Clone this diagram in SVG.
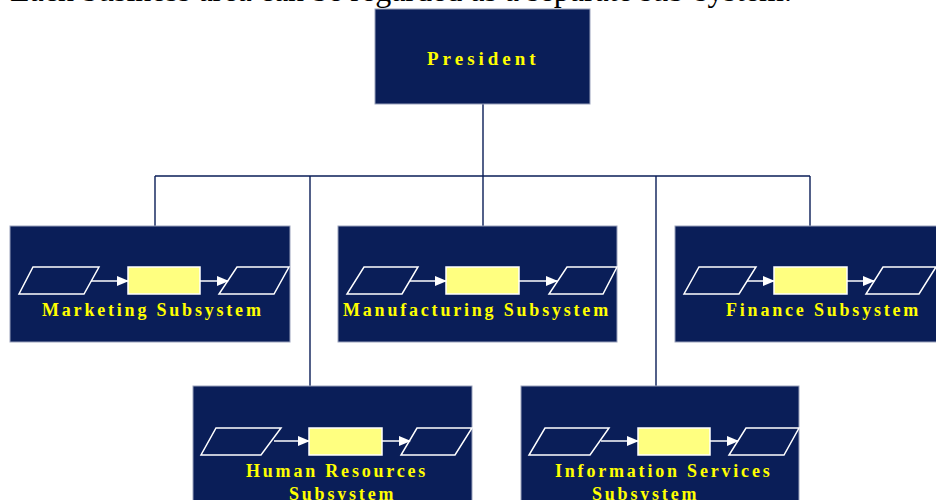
<svg xmlns="http://www.w3.org/2000/svg" width="936" height="500" viewBox="0 0 936 500">
<defs>
<style>
.box{fill:#0a1e58;stroke:#9aa2bc;stroke-width:1}
.conn{stroke:#0a1e58;stroke-width:1.4;fill:none}
.para{fill:none;stroke:#ffffff;stroke-width:1.5}
.proc{fill:#ffff80;stroke:#ffffff;stroke-width:1.5}
.arr{stroke:#ffffff;stroke-width:1.5;fill:none;marker-end:url(#ah)}
.lbl{font-family:"Liberation Serif","Times New Roman",serif;font-weight:bold;font-size:18px;fill:#ffff00;letter-spacing:2.8px}
.title{font-family:"Liberation Serif","Times New Roman",serif;font-size:32px;fill:#000}
</style>
<marker id="ah" viewBox="0 0 12 10" refX="11" refY="5" markerWidth="12" markerHeight="10" markerUnits="userSpaceOnUse" orient="auto">
<path d="M0,0 L12,5 L0,10 z" fill="#ffffff"/>
</marker>
</defs>
<rect width="936" height="500" fill="#ffffff"/>
<text class="title" x="10" y="1">Each business area can be regarded as a separate sub-system.</text>

<g id="connectors">
<path class="conn" d="M483,104 V176 M155,176 H810 M155,176 V226 M483,176 V226 M810,176 V226 M310,176 V386 M656,176 V386"/>
</g>

<g id="president">
<rect class="box" x="375" y="9" width="215" height="95"/>
<text class="lbl" x="427" y="65" style="font-size:19px;letter-spacing:4px">President</text>
</g>

<g id="marketing">
<rect class="box" x="10" y="226" width="280" height="116"/>
<polygon class="para" points="33,267 99,267 84,294 19,294"/>
<line class="arr" x1="91" y1="281" x2="128" y2="281"/>
<rect class="proc" x="128" y="267" width="72" height="27"/>
<line class="arr" x1="200" y1="281" x2="228" y2="281"/>
<polygon class="para" points="237,267 289,267 274,294 219,294"/>
<text class="lbl" x="42" y="316">Marketing Subsystem</text>
</g>

<g id="manufacturing">
<rect class="box" x="338" y="226" width="279" height="116"/>
<polygon class="para" points="364,267 418,267 402,294 347,294"/>
<line class="arr" x1="410" y1="281" x2="446" y2="281"/>
<rect class="proc" x="446" y="267" width="73" height="27"/>
<line class="arr" x1="519" y1="281" x2="557" y2="281"/>
<polygon class="para" points="567,267 617,267 603,294 549,294"/>
<text class="lbl" x="343" y="316">Manufacturing Subsystem</text>
</g>

<g id="finance">
<rect class="box" x="675" y="226" width="280" height="116"/>
<polygon class="para" points="699,267 756,267 739,294 684,294"/>
<line class="arr" x1="747" y1="281" x2="774" y2="281"/>
<rect class="proc" x="774" y="267" width="73" height="27"/>
<line class="arr" x1="847" y1="281" x2="874" y2="281"/>
<polygon class="para" points="883,267 936,267 919,294 866,294"/>
<text class="lbl" x="726" y="316">Finance Subsystem</text>
</g>

<g id="human-resources">
<rect class="box" x="193" y="386" width="279" height="130"/>
<polygon class="para" points="216,428 281,428 261,455 201,455"/>
<line class="arr" x1="274" y1="441" x2="309" y2="441"/>
<rect class="proc" x="309" y="428" width="73" height="27"/>
<line class="arr" x1="382" y1="441" x2="410" y2="441"/>
<polygon class="para" points="417,428 472,428 455,455 401,455"/>
<text class="lbl" x="246" y="477">Human Resources</text>
<text class="lbl" x="289" y="500">Subsystem</text>
</g>

<g id="information-services">
<rect class="box" x="521" y="386" width="278" height="130"/>
<polygon class="para" points="545,428 609,428 590,455 529,455"/>
<line class="arr" x1="601" y1="441" x2="638" y2="441"/>
<rect class="proc" x="638" y="428" width="72" height="27"/>
<line class="arr" x1="710" y1="441" x2="738" y2="441"/>
<polygon class="para" points="746,428 799,428 784,455 729,455"/>
<text class="lbl" x="555" y="477">Information Services</text>
<text class="lbl" x="592" y="500">Subsystem</text>
</g>
</svg>
